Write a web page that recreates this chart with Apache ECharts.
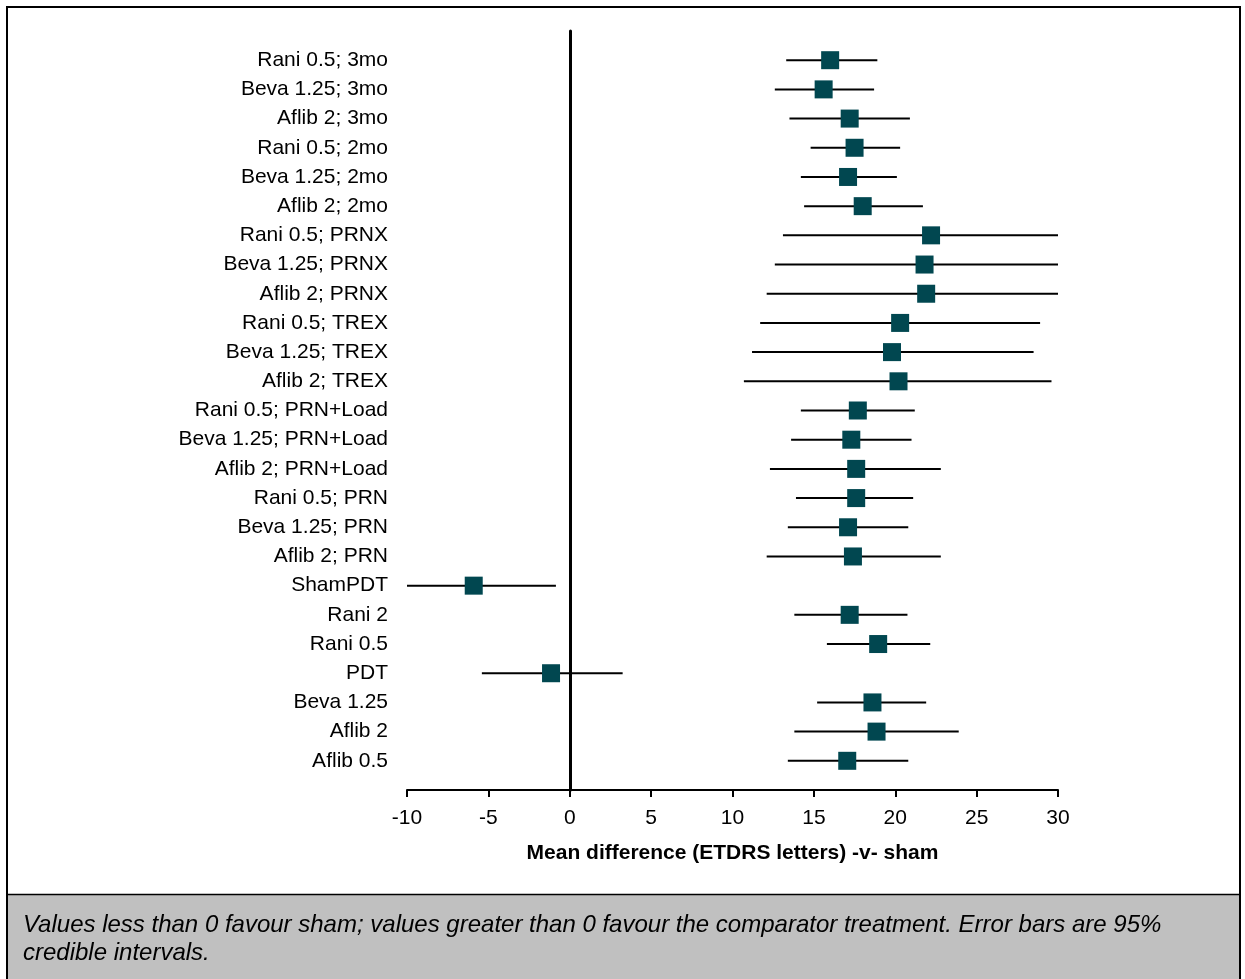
<!DOCTYPE html>
<html>
<head>
<meta charset="utf-8">
<script src="https://cdn.jsdelivr.net/npm/echarts@6/dist/echarts.min.js"></script>
<style>
  html, body { margin: 0; padding: 0; background: #fff; }
  #chart { width: 1245px; height: 979px; }
</style>
</head>
<body>
<div id="chart"></div>
<script>
const labels = [
  'Rani 0.5; 3mo', 'Beva 1.25; 3mo', 'Aflib 2; 3mo',
  'Rani 0.5; 2mo', 'Beva 1.25; 2mo', 'Aflib 2; 2mo',
  'Rani 0.5; PRNX', 'Beva 1.25; PRNX', 'Aflib 2; PRNX',
  'Rani 0.5; TREX', 'Beva 1.25; TREX', 'Aflib 2; TREX',
  'Rani 0.5; PRN+Load', 'Beva 1.25; PRN+Load', 'Aflib 2; PRN+Load',
  'Rani 0.5; PRN', 'Beva 1.25; PRN', 'Aflib 2; PRN',
  'ShamPDT', 'Rani 2', 'Rani 0.5', 'PDT', 'Beva 1.25', 'Aflib 2', 'Aflib 0.5'
]
const means = [16.0, 15.6, 17.2, 17.5, 17.1, 18.0, 22.2, 21.8, 21.9, 20.3, 19.8, 20.2,
  17.7, 17.3, 17.6, 17.6, 17.1, 17.4, -5.9, 17.2, 18.95, -1.15, 18.6, 18.85, 17.05]
const lower = [13.3, 12.6, 13.5, 14.8, 14.2, 14.4, 13.1, 12.6, 12.1, 11.7, 11.2, 10.7,
  14.2, 13.6, 12.3, 13.9, 13.4, 12.1, -10, 13.8, 15.8, -5.4, 15.2, 13.8, 13.4]
const upper = [18.9, 18.7, 20.9, 20.3, 20.1, 21.7, 30, 30, 30, 28.9, 28.5, 29.6,
  21.2, 21.0, 22.8, 21.1, 20.8, 22.8, -0.85, 20.75, 22.15, 3.25, 21.9, 23.9, 20.8]
const xTicks = [-10, 30, 5] // min, max, interval
const axisTitle = 'Mean difference (ETDRS letters) -v- sham'
const caption = 'Values less than 0 favour sham; values greater than 0 favour the comparator treatment. Error bars are 95%\ncredible intervals.'

const FONT = '"Liberation Sans", Arial, sans-serif'

const chart = echarts.init(document.getElementById('chart'))

// row index 1..n on a value axis so the zero line can span the whole plot
const pointData = means.map((m, i) => [m, i + 1])
const barData = means.map((m, i) => [lower[i], upper[i], i + 1])

const option = {
  backgroundColor: '#fff',
  animation: false,
  grid: { left: 407, right: 187, top: 31, bottom: 189, containLabel: false },
  xAxis: {
    type: 'value',
    min: xTicks[0],
    max: xTicks[1],
    interval: xTicks[2],
    name: axisTitle,
    nameLocation: 'middle',
    nameGap: 53,
    nameTextStyle: { color: '#000', fontSize: 21, fontWeight: 'bold', fontFamily: FONT },
    axisLine: { onZero: false, lineStyle: { color: '#000', width: 2 } },
    axisTick: { show: true, length: 7, inside: false, lineStyle: { color: '#000', width: 2 } },
    axisLabel: { color: '#000', fontSize: 21, fontFamily: FONT, margin: 18 },
    splitLine: { show: false }
  },
  yAxis: {
    type: 'value',
    inverse: true,
    min: 0,
    max: 26,
    interval: 1,
    axisLine: { show: true, onZero: true, lineStyle: { color: '#000', width: 3 } },
    axisTick: { show: false },
    splitLine: { show: false },
    axisLabel: {
      show: true,
      color: '#000',
      fontSize: 21,
      fontFamily: FONT,
      margin: 19,
      padding: [4, 0, 0, 0],
      formatter: function(v) {
        return labels[v - 1] || ''
      }
    }
  },
  graphic: [
    {
      type: 'rect',
      shape: { x: 7, y: 895, width: 1233, height: 90 },
      style: { fill: '#c0c0c0' },
      z: -10
    },
    {
      type: 'rect',
      shape: { x: 7, y: 7, width: 1233, height: 1000 },
      style: { fill: 'none', stroke: '#000', lineWidth: 2 }
    },
    {
      type: 'line',
      shape: { x1: 7, y1: 894.5, x2: 1240, y2: 894.5 },
      style: { stroke: '#000', lineWidth: 1.5 }
    },
    {
      type: 'text',
      left: 23,
      top: 911,
      style: {
        text: caption,
        fill: '#000',
        font: 'italic 24px ' + FONT,
        lineHeight: 28
      }
    }
  ],
  series: [
    {
      type: 'custom',
      data: barData,
      z: 2,
      renderItem: function(params, api) {
        const p1 = api.coord([api.value(0), api.value(2)])
        const p2 = api.coord([api.value(1), api.value(2)])
        return {
          type: 'line',
          shape: { x1: p1[0], y1: p1[1], x2: p2[0], y2: p2[1] },
          style: { stroke: '#000', lineWidth: 2 }
        }
      }
    },
    {
      type: 'scatter',
      data: pointData,
      symbol: 'rect',
      symbolSize: 18,
      z: 3,
      itemStyle: { color: '#014750', opacity: 1 }
    }
  ]
}

chart.setOption(option)
</script>
</body>
</html>
